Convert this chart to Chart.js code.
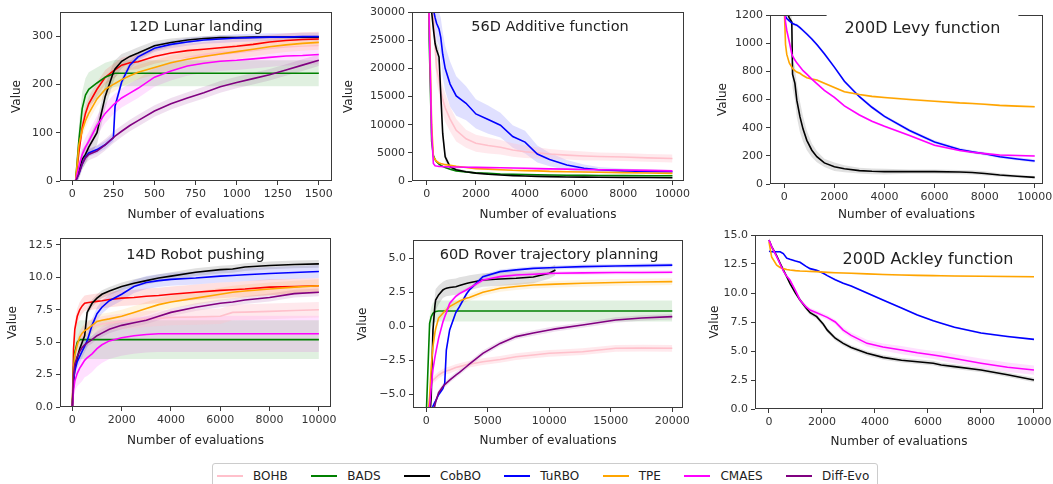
<!DOCTYPE html>
<html>
<head>
<meta charset="utf-8">
<script src="https://cdn.jsdelivr.net/npm/chart.js"></script>
<style>
  body { margin: 0; width: 1053px; height: 484px; overflow: hidden; background: #fff; font-family: "DejaVu Sans", sans-serif; position: relative; }
  canvas { position: absolute; }
  #legend { position: absolute; left: 212px; top: 463px; height: 24px; border: 1px solid #ccc; border-radius: 3px;
            display: flex; align-items: center; padding: 0 8px 0 4px; font-size: 12px; color: #222; background: #fff; }
  #legend .item { display: flex; align-items: center; margin-right: 23.5px; }
  #legend .item:last-child { margin-right: 0; }
  #legend .line { width: 26px; height: 2px; margin-right: 10px; }
</style>
</head>
<body>
<div id="legend"></div>
<script>
// legend entries (the red curve in two panels has no legend entry)
const seriesNames = ['BOHB', 'BADS', 'CobBO', 'TuRBO', 'TPE', 'CMAES', 'Diff-Evo'];
const seriesColors = ['#ffc0cb', '#008000', '#000000', '#0000ff', '#ffa500', '#ff00ff', '#800080'];
const redColor = '#ff0000';

// ---- 12D Lunar landing ----
const lunarX = [20, 40, 60, 80, 100, 150, 200, 250, 260, 300, 350, 400, 500, 600, 700, 800, 900, 1000, 1100, 1200, 1300, 1400, 1500];
const lunarRed = [0, 60, 110, 140, 160, 190, 215, 228, 230, 240, 245, 247, 258, 265, 270, 273, 276, 279, 283, 288, 291, 293, 294];
const lunarBADS = [0, 85, 150, 178, 190, 203, 215, 222, 223, 223, 223, 223, 223, 223, 223, 223, 223, 223, 223, 223, 223, 223, 223];
const lunarCobBO = [0, 20, 45, 55, 70, 100, 175, 225, 232, 248, 258, 265, 280, 287, 292, 295, 297, 297, 298, 298, 298, 298, 298];
const lunarTuRBO = [0, 15, 35, 50, 58, 65, 75, 90, 155, 205, 240, 257, 275, 283, 288, 292, 294, 296, 297, 298, 298, 299, 299];
const lunarTPE = [0, 75, 105, 125, 140, 170, 190, 200, 202, 210, 218, 225, 235, 245, 252, 258, 263, 268, 273, 278, 282, 285, 287];
const lunarCMAES = [0, 30, 55, 70, 82, 115, 140, 158, 161, 172, 182, 192, 215, 228, 238, 244, 248, 250, 253, 256, 259, 260, 262];
const lunarDiffEvo = [0, 15, 35, 48, 55, 62, 75, 90, 93, 103, 115, 125, 145, 160, 172, 183, 195, 204, 212, 220, 230, 240, 250];
const lunarBADSErr = [5, 30, 35, 35, 35, 32, 30, 28, 28, 27, 27, 27, 27, 27, 27, 27, 27, 27, 27, 27, 27, 27, 27];
const lunarCobBOErr = [5, 15, 20, 20, 20, 25, 25, 20, 18, 15, 12, 12, 10, 8, 6, 5, 5, 4, 3, 3, 3, 3, 3];
const lunarXTicks = [0, 250, 500, 750, 1000, 1250, 1500];
const lunarYTicks = [0, 100, 200, 300];

// ---- 56D Additive function ----
const addX = [0, 100, 200, 270, 340, 400, 500, 570, 650, 750, 950, 1200, 1600, 2000, 2500, 3000, 3500, 4000, 4500, 5000, 5700, 6400, 7000, 8000, 9000, 10000];
const addBOHB = [60000, 45000, 35000, 30000, 24000, 20000, 18000, 16000, 14500, 13000, 11000, 9000, 7500, 6700, 6300, 6000, 5500, 5200, 5000, 4800, 4600, 4450, 4350, 4250, 4100, 4000];
const addBADS = [60000, 25000, 7000, 4500, 3800, 3400, 3000, 2800, 2600, 2400, 2100, 1800, 1600, 1450, 1350, 1250, 1200, 1150, 1100, 1060, 1020, 1000, 980, 960, 940, 920];
const addCobBO = [60000, 40000, 30000, 27000, 24400, 23300, 22000, 15500, 8400, 4300, 2500, 2000, 1650, 1400, 1200, 1060, 950, 880, 820, 770, 720, 680, 660, 630, 610, 590];
const addTuRBO = [60000, 45000, 35000, 30500, 29000, 28000, 27000, 25500, 22500, 20000, 17200, 15100, 13800, 11900, 10900, 9900, 7900, 6900, 4800, 3800, 2850, 2250, 2000, 1800, 1700, 1650];
const addTPE = [60000, 30000, 10000, 4300, 3800, 3500, 3200, 3100, 3000, 2900, 2800, 2600, 2400, 2200, 2100, 2000, 1900, 1850, 1800, 1700, 1650, 1600, 1550, 1480, 1420, 1350];
const addCMAES = [60000, 28000, 8400, 3100, 2700, 2650, 2600, 2580, 2560, 2540, 2500, 2480, 2450, 2420, 2380, 2350, 2300, 2250, 2200, 2150, 2100, 2050, 2000, 1950, 1880, 1800];
const addBOHBErr = [0, 0, 0, 2000, 2500, 2500, 2500, 2500, 2500, 2500, 2200, 2000, 1600, 1500, 1400, 1300, 1200, 1100, 1000, 900, 800, 800, 700, 700, 700, 700];
const addCobBOErr = [0, 0, 0, 1000, 1500, 1500, 1500, 1500, 1200, 800, 400, 300, 200, 150, 150, 100, 100, 100, 100, 100, 100, 100, 100, 100, 100, 100];
const addTuRBOErr = [0, 0, 0, 2000, 2500, 3000, 3000, 3500, 4000, 4000, 4000, 3500, 3000, 2600, 2500, 2200, 2000, 2000, 1500, 1200, 900, 700, 500, 400, 300, 300];
const addXTicks = [0, 2000, 4000, 6000, 8000, 10000];
const addYTicks = [0, 5000, 10000, 15000, 20000, 25000, 30000];

// ---- 200D Levy function ----
const levyX = [0, 50, 100, 200, 300, 330, 425, 500, 625, 750, 900, 1100, 1300, 1600, 2000, 2400, 3000, 3500, 4000, 5000, 6000, 7000, 7500, 8000, 8600, 9300, 10000];
const levyCobBO = [1300, 1250, 1220, 1180, 1150, 780, 715, 595, 478, 390, 310, 240, 194, 150, 122, 108, 95, 90, 88, 88, 88, 85, 82, 75, 64, 55, 47];
const levyTuRBO = [1250, 1190, 1175, 1158, 1145, 1140, 1133, 1128, 1110, 1090, 1065, 1030, 990, 925, 830, 730, 620, 545, 480, 380, 298, 245, 228, 215, 194, 178, 163];
const levyTPE = [1250, 990, 920, 860, 830, 820, 805, 795, 786, 770, 755, 745, 738, 715, 685, 655, 635, 622, 614, 600, 588, 576, 572, 566, 558, 553, 549];
const levyCMAES = [1250, 1150, 1090, 1010, 925, 910, 880, 860, 833, 805, 780, 745, 713, 665, 615, 555, 490, 445, 410, 345, 275, 238, 225, 216, 206, 202, 199];
const levyCobBOErr = [0, 0, 0, 20, 40, 100, 120, 120, 110, 90, 70, 50, 40, 30, 30, 25, 20, 20, 20, 15, 15, 15, 15, 15, 12, 10, 10];
const levyXTicks = [0, 2000, 4000, 6000, 8000, 10000];
const levyYTicks = [0, 200, 400, 600, 800, 1000, 1200];

// ---- 14D Robot pushing ----
const robotX = [0, 50, 100, 200, 300, 400, 500, 600, 800, 1000, 1200, 1500, 2000, 2500, 3000, 3500, 4000, 5000, 6000, 6500, 7000, 8000, 9000, 10000];
const robotBOHB = [0, 3.0, 4.0, 4.8, 5.2, 5.5, 5.8, 6.0, 6.2, 6.3, 6.4, 6.5, 6.6, 6.7, 6.8, 6.85, 6.9, 6.95, 7.0, 7.3, 7.32, 7.38, 7.45, 7.5];
const robotRed = [0, 4.5, 6.0, 7.0, 7.5, 7.8, 8.0, 8.05, 8.1, 8.15, 8.2, 8.3, 8.4, 8.45, 8.55, 8.6, 8.7, 8.85, 9.0, 9.05, 9.1, 9.25, 9.3, 9.35];
const robotBADS = [0, 3.0, 4.2, 5.0, 5.2, 5.2, 5.2, 5.2, 5.2, 5.2, 5.2, 5.2, 5.2, 5.2, 5.2, 5.2, 5.2, 5.2, 5.2, 5.2, 5.2, 5.2, 5.2, 5.2];
const robotCobBO = [0, 2.0, 3.0, 3.8, 4.5, 5.0, 5.5, 7.3, 8.0, 8.4, 8.7, 8.95, 9.3, 9.55, 9.75, 9.95, 10.1, 10.4, 10.6, 10.65, 10.8, 10.92, 11.0, 11.04];
const robotTuRBO = [0, 2.0, 2.8, 3.5, 3.9, 4.3, 4.7, 5.1, 6.3, 7.2, 7.7, 8.2, 8.7, 9.3, 9.6, 9.75, 9.85, 9.95, 10.1, 10.15, 10.2, 10.3, 10.38, 10.45];
const robotTPE = [0, 3.0, 4.0, 4.8, 5.4, 5.7, 5.9, 6.0, 6.3, 6.6, 6.7, 6.8, 7.0, 7.3, 7.6, 7.9, 8.1, 8.4, 8.7, 8.85, 8.95, 9.1, 9.25, 9.35];
const robotCMAES = [0, 1.3, 2.0, 2.6, 3.0, 3.3, 3.6, 3.8, 4.1, 4.5, 4.8, 5.1, 5.35, 5.5, 5.6, 5.65, 5.65, 5.65, 5.65, 5.65, 5.65, 5.65, 5.65, 5.65];
const robotDiffEvo = [0, 2.5, 3.3, 3.9, 4.3, 4.6, 4.8, 4.95, 5.2, 5.5, 5.7, 6.0, 6.3, 6.5, 6.7, 7.0, 7.3, 7.7, 8.0, 8.1, 8.25, 8.45, 8.75, 8.85];
const robotBADSErr = [0, 0.8, 1.2, 1.5, 1.5, 1.5, 1.5, 1.5, 1.5, 1.5, 1.5, 1.5, 1.5, 1.5, 1.5, 1.5, 1.5, 1.5, 1.5, 1.5, 1.5, 1.5, 1.5, 1.5];
const robotCMAESErr = [0, 0.5, 0.8, 1.0, 1.2, 1.3, 1.3, 1.4, 1.4, 1.4, 1.4, 1.4, 1.4, 1.4, 1.4, 1.4, 1.4, 1.4, 1.4, 1.4, 1.4, 1.4, 1.4, 1.4];
const robotXTicks = [0, 2000, 4000, 6000, 8000, 10000];
const robotYTicks = [0, 2.5, 5, 7.5, 10, 12.5];

// ---- 60D Rover trajectory planning ----
const roverX = [0, 270, 400, 540, 700, 760, 1000, 1350, 1500, 1630, 1900, 2400, 2700, 3250, 3500, 4600, 6000, 7300, 8700, 10000, 10500, 12700, 15400, 17500, 20000];
const roverBOHB = [null, null, -4.2, -3.97, -3.85, -3.8, -3.6, -3.4, -3.35, -3.3, -3.23, -3.05, -2.98, -2.85, -2.8, -2.62, -2.45, -2.25, -2.12, -2.0, -1.98, -1.88, -1.63, -1.62, -1.63];
const roverBADS = [-6.5, 0.2, 0.7, 0.95, 1.05, 1.08, 1.12, 1.12, 1.12, 1.12, 1.12, 1.12, 1.12, 1.12, 1.12, 1.12, 1.12, 1.12, 1.12, 1.12, 1.12, 1.12, 1.12, 1.12, 1.12];
const roverCobBO = [-8, -7, -5.2, -0.3, 1.5, 1.93, 2.3, 2.67, 2.75, 2.8, 2.85, 2.91, 3.0, 3.15, 3.2, 3.4, 3.48, 3.53, 3.62, 3.9, 4.14, null, null, null, null];
const roverTuRBO = [-8, -7.5, -6.8, -5.9, -5.6, -5.5, -5.05, -4.6, -4.2, -1.76, -0.28, 1.0, 1.44, 2.35, 2.67, 3.65, 4.02, 4.15, 4.26, 4.3, 4.32, 4.39, 4.43, 4.46, 4.5];
const roverTPE = [-8, -5.2, -3.0, -1.5, -0.5, -0.2, 0.6, 0.95, 1.1, 1.2, 1.44, 1.7, 1.85, 2.05, 2.12, 2.5, 2.79, 2.92, 3.03, 3.08, 3.1, 3.16, 3.22, 3.25, 3.28];
const roverCMAES = [-8, -5.9, -4.5, -3.2, -2.3, -2.0, -0.9, 0.3, 0.7, 1.0, 1.68, 2.2, 2.4, 2.67, 2.8, 3.4, 3.65, 3.77, 3.83, 3.89, 3.9, 3.93, 3.95, 3.96, 3.97];
const roverDiffEvo = [-8, -7.5, -7, -6.4, -5.85, -5.6, -4.9, -4.45, -4.3, -4.2, -3.97, -3.6, -3.4, -2.99, -2.8, -2.0, -1.27, -0.77, -0.5, -0.28, -0.2, 0.09, 0.45, 0.6, 0.7];
const roverBADSErr = [0, 0.5, 0.7, 0.75, 0.78, 0.78, 0.78, 0.78, 0.78, 0.78, 0.78, 0.78, 0.78, 0.78, 0.78, 0.78, 0.78, 0.78, 0.78, 0.78, 0.78, 0.78, 0.78, 0.78, 0.78];
const roverCobBOErr = [0, 0, 0.5, 0.8, 0.8, 0.8, 0.7, 0.6, 0.6, 0.6, 0.6, 0.6, 0.6, 0.55, 0.55, 0.5, 0.5, 0.5, 0.45, 0.4, 0.4, null, null, null, null];
const roverXTicks = [0, 5000, 10000, 15000, 20000];
const roverYTicks = [-5, -2.5, 0, 2.5, 5];

// ---- 200D Ackley function ----
const ackleyX = [0, 100, 290, 420, 540, 670, 790, 1000, 1170, 1400, 1550, 1800, 2050, 2200, 2500, 2800, 3100, 3700, 4300, 5000, 5600, 6200, 6500, 7000, 8000, 9000, 10000];
const ackleyCobBO = [14.57, 14.0, 13.2, 12.56, 12.0, 11.4, 10.83, 10.0, 9.4, 8.7, 8.3, 7.96, 7.3, 6.8, 6.1, 5.66, 5.3, 4.8, 4.45, 4.2, 4.08, 3.95, 3.79, 3.65, 3.36, 2.95, 2.5];
const ackleyTuRBO = [13.6, 13.56, 13.56, 13.56, 13.4, 13.0, 12.9, 12.75, 12.65, 12.3, 12.1, 11.95, 11.7, 11.5, 11.15, 10.85, 10.6, 10.0, 9.4, 8.7, 8.1, 7.6, 7.4, 7.05, 6.55, 6.25, 6.0];
const ackleyTPE = [14.4, 13.1, 12.4, 12.2, 12.1, 12.02, 11.98, 11.93, 11.9, 11.88, 11.86, 11.84, 11.8, 11.78, 11.75, 11.72, 11.7, 11.65, 11.6, 11.55, 11.52, 11.5, 11.49, 11.47, 11.45, 11.42, 11.4];
const ackleyCMAES = [14.57, 14.0, 13.13, 12.5, 11.9, 11.45, 11.12, 10.2, 9.4, 8.8, 8.53, 8.3, 8.05, 7.9, 7.5, 6.8, 6.35, 5.66, 5.35, 5.08, 4.85, 4.66, 4.55, 4.35, 3.95, 3.6, 3.36];
const ackleyCMAESErr = [0, 0.05, 0.1, 0.1, 0.1, 0.1, 0.1, 0.15, 0.15, 0.2, 0.2, 0.2, 0.2, 0.2, 0.2, 0.25, 0.25, 0.3, 0.3, 0.35, 0.35, 0.35, 0.4, 0.4, 0.4, 0.4, 0.4];
const ackleyXTicks = [0, 2000, 4000, 6000, 8000, 10000];
const ackleyYTicks = [0, 2.5, 5, 7.5, 10, 12.5, 15];

function rgba(hex, a) {
  const n = parseInt(hex.slice(1), 16);
  return `rgba(${n >> 16}, ${(n >> 8) & 255}, ${n & 255}, ${a})`;
}
function colorOf(name) {
  return name === 'red' ? redColor : seriesColors[seriesNames.indexOf(name)];
}

// box + in-axes title
const panelDecor = {
  id: 'panelDecor',
  afterDraw(chart, args, opts) {
    const { ctx, chartArea: a } = chart;
    ctx.save();
    ctx.strokeStyle = '#3a3a3a';
    ctx.lineWidth = 1;
    ctx.strokeRect(a.left + 0.5, a.top + 0.5, a.right - a.left - 1, a.bottom - a.top - 1);
    ctx.font = `${opts.size}px "DejaVu Sans"`;
    const cx = (a.left + a.right) / 2 + opts.dx;
    const cy = a.top + opts.dy;
    if (opts.bg) {
      const w = ctx.measureText(opts.text).width;
      ctx.fillStyle = '#fff';
      ctx.fillRect(cx - w / 2 - 18, a.top - 1, w + 36, opts.dy + 10);
    }
    ctx.fillStyle = '#222';
    ctx.textAlign = 'center';
    ctx.textBaseline = 'middle';
    ctx.fillText(opts.text, cx, cy);
    ctx.restore();
  }
};

const panels = [
  { box: [60, 332, 12, 181], left: 10, xTitleY: 215, xs: lunarX, xMin: -75, xMax: 1580, xTicks: lunarXTicks,
    yMin: 0, yMax: 350, yTicks: lunarYTicks, dec: 0, title: '12D Lunar landing', size: 14.5, dx: 0, dy: 15,
    series: [['red', lunarRed, 15], ['BADS', lunarBADS, lunarBADSErr], ['CobBO', lunarCobBO, lunarCobBOErr],
             ['TuRBO', lunarTuRBO, 8], ['TPE', lunarTPE, 15], ['CMAES', lunarCMAES, 20], ['Diff-Evo', lunarDiffEvo, 12]] },
  { box: [412, 684, 12, 181], left: 342, xTitleY: 215, xs: addX, xMin: -600, xMax: 10470, xTicks: addXTicks,
    yMin: 0, yMax: 30000, yTicks: addYTicks, dec: 0, title: '56D Additive function', size: 14.5, dx: 2, dy: 15,
    series: [['BOHB', addBOHB, addBOHBErr], ['BADS', addBADS, 150], ['CobBO', addCobBO, addCobBOErr],
             ['TuRBO', addTuRBO, addTuRBOErr], ['TPE', addTPE, 150], ['CMAES', addCMAES, 150]] },
  { box: [770, 1043, 15, 184], left: 716, xTitleY: 215, xs: levyX, xMin: -570, xMax: 10330, xTicks: levyXTicks,
    yMin: 0, yMax: 1200, yTicks: levyYTicks, dec: 0, title: '200D Levy function', size: 16, dx: 16, dy: 14, bg: true,
    series: [['CobBO', levyCobBO, levyCobBOErr], ['TuRBO', levyTuRBO, 12], ['TPE', levyTPE, 8], ['CMAES', levyCMAES, 8]] },
  { box: [60, 331, 238, 407], left: 6, xTitleY: 441, xs: robotX, xMin: -500, xMax: 10490, xTicks: robotXTicks,
    yMin: 0, yMax: 13.04, yTicks: robotYTicks, dec: 1, title: '14D Robot pushing', size: 14.5, dx: 0, dy: 17,
    series: [['BOHB', robotBOHB, 0.6], ['red', robotRed, 0.6], ['BADS', robotBADS, robotBADSErr], ['CobBO', robotCobBO, 0.3],
             ['TuRBO', robotTuRBO, 0.5], ['TPE', robotTPE, 0.5], ['CMAES', robotCMAES, robotCMAESErr], ['Diff-Evo', robotDiffEvo, 0.3]] },
  { box: [413, 683, 240, 408], left: 356, xTitleY: 441, xs: roverX, xMin: -1080, xMax: 20870, xTicks: roverXTicks,
    yMin: -6.03, yMax: 6.35, yTicks: roverYTicks, dec: 1, title: '60D Rover trajectory planning', size: 14.5, dx: 1, dy: 15,
    series: [['BOHB', roverBOHB, 0.25], ['BADS', roverBADS, roverBADSErr], ['CobBO', roverCobBO, roverCobBOErr],
             ['TuRBO', roverTuRBO, 0.15], ['TPE', roverTPE, 0.25], ['CMAES', roverCMAES, 0.15], ['Diff-Evo', roverDiffEvo, 0.2]] },
  { box: [755, 1043, 235, 409], left: 708, xTitleY: 442, xs: ackleyX, xMin: -528, xMax: 10340, xTicks: ackleyXTicks,
    yMin: 0, yMax: 15, yTicks: ackleyYTicks, dec: 1, title: '200D Ackley function', size: 16, dx: 29, dy: 25,
    series: [['CobBO', ackleyCobBO, 0.2], ['TuRBO', ackleyTuRBO, 0.08], ['TPE', ackleyTPE, 0.08], ['CMAES', ackleyCMAES, ackleyCMAESErr]] }
];

const tickFont = { family: 'DejaVu Sans', size: 11 };
const titleFont = { family: 'DejaVu Sans', size: 12 };

panels.forEach((p) => {
  const [L, R, T, B] = p.box;
  const padTop = 12, padRight = 24;
  const yAxisW = L - p.left;
  const canvasTop = T - padTop;
  const canvasBottom = p.xTitleY + 7;
  const xAxisH = canvasBottom - B;
  const canvas = document.createElement('canvas');
  canvas.width = yAxisW + (R - L) + padRight;
  canvas.height = canvasBottom - canvasTop;
  canvas.style.left = p.left + 'px';
  canvas.style.top = canvasTop + 'px';
  document.body.appendChild(canvas);

  const bands = [];
  const lines = [];
  const n = p.series.length;
  p.series.forEach(([name, ys, err], k) => {
    const col = colorOf(name);
    const e = (i) => (Array.isArray(err) ? err[i] : err);
    const lo = p.xs.map((x, i) => ({ x, y: ys[i] == null || e(i) == null ? null : ys[i] - e(i) }));
    const hi = p.xs.map((x, i) => ({ x, y: ys[i] == null || e(i) == null ? null : ys[i] + e(i) }));
    bands.push({ data: lo, borderWidth: 0, pointRadius: 0, fill: false, order: 50 });
    bands.push({ data: hi, borderWidth: 0, pointRadius: 0, fill: '-1', order: 50,
                 backgroundColor: rgba(col, name === 'BOHB' ? 0.35 : 0.12) });
    lines.push({ label: name, data: p.xs.map((x, i) => ({ x, y: ys[i] })), borderColor: col,
                 borderWidth: 1.6, pointRadius: 0, fill: false, tension: 0, order: 10 + n - k });
  });

  new Chart(canvas.getContext('2d'), {
    type: 'line',
    data: { datasets: bands.concat(lines) },
    options: {
      responsive: false,
      animation: false,
      events: [],
      layout: { padding: { left: 0, top: padTop, right: padRight, bottom: 0 } },
      plugins: {
        legend: { display: false },
        tooltip: { enabled: false },
        panelDecor: { text: p.title, size: p.size, dx: p.dx, dy: p.dy, bg: !!p.bg }
      },
      scales: {
        x: {
          type: 'linear', min: p.xMin, max: p.xMax,
          afterBuildTicks: (s) => { s.ticks = p.xTicks.map((v) => ({ value: v })); },
          grid: { drawOnChartArea: false, drawTicks: true, tickLength: 4, color: '#3a3a3a' },
          border: { display: false },
          ticks: { autoSkip: false, maxRotation: 0, padding: 3, color: '#333', font: tickFont,
                   callback: (v) => String(v) },
          title: { display: true, text: 'Number of evaluations', color: '#222', font: titleFont, padding: 0 },
          afterFit: (s) => { s.height = xAxisH; }
        },
        y: {
          type: 'linear', min: p.yMin, max: p.yMax,
          afterBuildTicks: (s) => { s.ticks = p.yTicks.map((v) => ({ value: v })); },
          grid: { drawOnChartArea: false, drawTicks: true, tickLength: 4, color: '#3a3a3a' },
          border: { display: false },
          ticks: { padding: 3, color: '#333', font: tickFont,
                   callback: (v) => (p.dec ? v.toFixed(1) : String(v)).replace('-', '\u2212') },
          title: { display: true, text: 'Value', color: '#222', font: titleFont, padding: 0 },
          afterFit: (s) => { s.width = yAxisW; }
        }
      }
    },
    plugins: [panelDecor]
  });
});

// shared legend along the bottom
const legend = document.getElementById('legend');
seriesNames.forEach((name, i) => {
  const item = document.createElement('div');
  item.className = 'item';
  const line = document.createElement('span');
  line.className = 'line';
  line.style.background = seriesColors[i];
  const label = document.createElement('span');
  label.textContent = name;
  item.appendChild(line);
  item.appendChild(label);
  legend.appendChild(item);
});
</script>
</body>
</html>
